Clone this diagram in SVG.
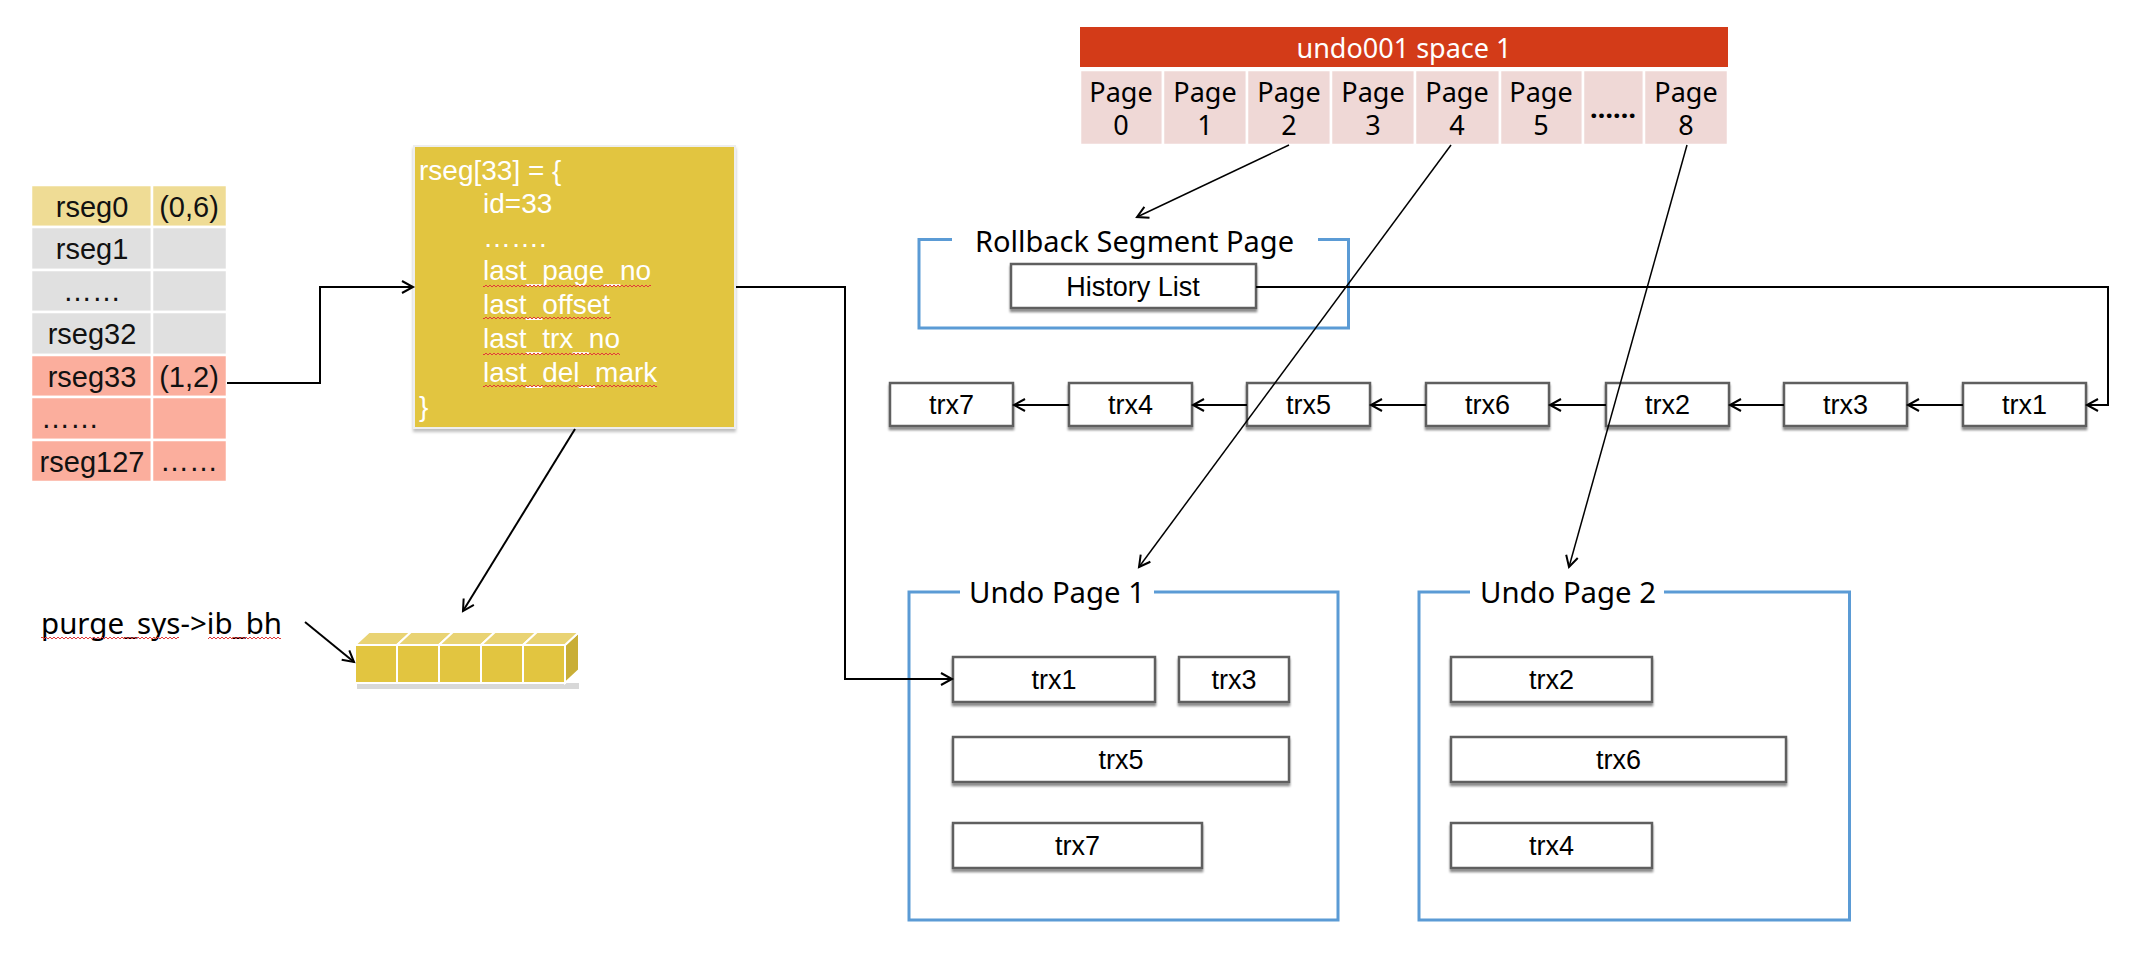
<svg xmlns="http://www.w3.org/2000/svg" width="2140" height="962" viewBox="0 0 2140 962">
<style>
.sans{font-family:"Liberation Sans",Arial,sans-serif}
.yh{font-family:"Noto Sans","Open Sans",sans-serif}
.cell{stroke:#fff;stroke-width:2.5}
.tbl{font-family:"Liberation Sans",Arial,sans-serif;font-size:29px;fill:#111;text-anchor:middle}
.ytxt{font-family:"Liberation Sans",Arial,sans-serif;font-size:28px;fill:#fff}
.pg{fill:#EFD8D6;stroke:#fff;stroke-width:2.5}
.pgt{font-family:"Noto Sans","Open Sans",sans-serif;font-size:27px;fill:#000;text-anchor:middle}
.box{fill:#fff;stroke:#5f5f5f;stroke-width:2.5;filter:url(#sh)}
.bt{font-family:"Liberation Sans",Arial,sans-serif;font-size:27px;fill:#000;text-anchor:middle}
.frame{fill:none;stroke:#5B9BD5;stroke-width:3}
.title{font-family:"Noto Sans","Open Sans",sans-serif;font-size:29px;fill:#000}
.conn{fill:none;stroke:#000;stroke-width:2}
.thin{fill:none;stroke:#000;stroke-width:1.5}
.cf{fill:#E2C540;stroke:#fff;stroke-width:2}
.ct{fill:#E9D373;stroke:#fff;stroke-width:2}
.cs{fill:#C9AE36;stroke:#fff;stroke-width:2}
</style>
<defs>
<marker id="arr" markerUnits="userSpaceOnUse" markerWidth="16" markerHeight="16" refX="13" refY="7" orient="auto">
<path d="M2,1 L13,7 L2,13" fill="none" stroke="#000" stroke-width="2"/>
</marker>
<filter id="sh" x="-10%" y="-20%" width="120%" height="160%">
<feDropShadow dx="0" dy="3" stdDeviation="1.2" flood-color="#000" flood-opacity="0.45"/>
</filter>
<filter id="sh2" x="-10%" y="-10%" width="120%" height="120%">
<feDropShadow dx="0" dy="3" stdDeviation="1.5" flood-color="#000" flood-opacity="0.25"/>
</filter>
<pattern id="wavy" width="4" height="4" patternUnits="userSpaceOnUse">
<path d="M0,3 L2,1 L4,3" fill="none" stroke="#E23A3A" stroke-width="1"/>
</pattern>
</defs>
<rect width="2140" height="962" fill="#fff"/>

<g id="rseg-table">
<rect class="cell" x="31" y="185" width="121" height="42" fill="#EFDC95"/>
<rect class="cell" x="152" y="185" width="75" height="42" fill="#EFDC95"/>
<rect class="cell" x="31" y="227" width="121" height="43" fill="#E0E0E0"/>
<rect class="cell" x="152" y="227" width="75" height="43" fill="#E0E0E0"/>
<rect class="cell" x="31" y="270" width="121" height="42" fill="#E0E0E0"/>
<rect class="cell" x="152" y="270" width="75" height="42" fill="#E0E0E0"/>
<rect class="cell" x="31" y="312" width="121" height="43" fill="#E0E0E0"/>
<rect class="cell" x="152" y="312" width="75" height="43" fill="#E0E0E0"/>
<rect class="cell" x="31" y="355" width="121" height="42" fill="#FBAE9D"/>
<rect class="cell" x="152" y="355" width="75" height="42" fill="#FBAE9D"/>
<rect class="cell" x="31" y="397" width="121" height="43" fill="#FBAE9D"/>
<rect class="cell" x="152" y="397" width="75" height="43" fill="#FBAE9D"/>
<rect class="cell" x="31" y="440" width="121" height="42" fill="#FBAE9D"/>
<rect class="cell" x="152" y="440" width="75" height="42" fill="#FBAE9D"/>
<text class="tbl" x="92" y="217">rseg0</text>
<text class="tbl" x="189" y="217">(0,6)</text>
<text class="tbl" x="92" y="259">rseg1</text>
<text class="tbl" x="92" y="301">……</text>
<text class="tbl" x="92" y="344">rseg32</text>
<text class="tbl" x="92" y="387">rseg33</text>
<text class="tbl" x="189" y="387">(1,2)</text>
<text class="tbl" x="41" y="428" style="text-anchor:start">……</text>
<text class="tbl" x="92" y="472">rseg127</text>
<text class="tbl" x="189" y="471">……</text>
</g>

<g id="rseg33-struct">
<rect x="414" y="146" width="321" height="282" fill="#E2C541" stroke="#eeeeee" stroke-width="2" filter="url(#sh2)"/>
<text class="ytxt" x="419" y="180">rseg[33] = {</text>
<text class="ytxt" x="483" y="213">id=33</text>
<text class="ytxt" x="483" y="247">…….</text>
<text class="ytxt" x="483" y="280">last_page_no</text>
<text class="ytxt" x="483" y="314">last_offset</text>
<text class="ytxt" x="483" y="348">last_trx_no</text>
<text class="ytxt" x="483" y="382">last_del_mark</text>
<text class="ytxt" x="419" y="416">}</text>
<rect x="483" y="283" width="168" height="4" fill="url(#wavy)"/>
<rect x="483" y="317" width="128" height="4" fill="url(#wavy)"/>
<rect x="483" y="351" width="137" height="4" fill="url(#wavy)"/>
<rect x="483" y="385" width="174" height="4" fill="url(#wavy)"/>
</g>

<g id="purge-label">
<text class="yh" x="41" y="634" font-size="29" textLength="241" lengthAdjust="spacingAndGlyphs">purge_sys-&gt;ib_bh</text>
<rect x="41" y="637" width="138" height="4" fill="url(#wavy)"/>
<rect x="208" y="637" width="73" height="4" fill="url(#wavy)"/>
</g>

<g id="purge-heap">
<rect x="357" y="683" width="222" height="6" fill="#d8d8d8"/>
<polygon class="cs" points="565,645 579,632 579,670 565,683"/>
<polygon class="ct" points="355,645 369,632 411,632 397,645"/>
<polygon class="ct" points="397,645 411,632 453,632 439,645"/>
<polygon class="ct" points="439,645 453,632 495,632 481,645"/>
<polygon class="ct" points="481,645 495,632 537,632 523,645"/>
<polygon class="ct" points="523,645 537,632 579,632 565,645"/>
<rect class="cf" x="355" y="645" width="42" height="38"/>
<rect class="cf" x="397" y="645" width="42" height="38"/>
<rect class="cf" x="439" y="645" width="42" height="38"/>
<rect class="cf" x="481" y="645" width="42" height="38"/>
<rect class="cf" x="523" y="645" width="42" height="38"/>
</g>

<g id="undo001-space">
<rect x="1080" y="27" width="648" height="40" fill="#D33B18"/>
<text class="yh" x="1404" y="58" font-size="27" fill="#fff" text-anchor="middle">undo001 space 1</text>
<rect class="pg" x="1080" y="70" width="83" height="75"/>
<rect class="pg" x="1163" y="70" width="84" height="75"/>
<rect class="pg" x="1247" y="70" width="84" height="75"/>
<rect class="pg" x="1331" y="70" width="84" height="75"/>
<rect class="pg" x="1415" y="70" width="85" height="75"/>
<rect class="pg" x="1500" y="70" width="83" height="75"/>
<rect class="pg" x="1583" y="70" width="61" height="75"/>
<rect class="pg" x="1644" y="70" width="84" height="75"/>
<text class="pgt" x="1121" y="102">Page</text><text class="pgt" x="1121" y="135">0</text>
<text class="pgt" x="1205" y="102">Page</text><text class="pgt" x="1205" y="135">1</text>
<text class="pgt" x="1289" y="102">Page</text><text class="pgt" x="1289" y="135">2</text>
<text class="pgt" x="1373" y="102">Page</text><text class="pgt" x="1373" y="135">3</text>
<text class="pgt" x="1457" y="102">Page</text><text class="pgt" x="1457" y="135">4</text>
<text class="pgt" x="1541" y="102">Page</text><text class="pgt" x="1541" y="135">5</text>
<text class="pgt" x="1613" y="118" font-weight="bold">……</text>
<text class="pgt" x="1686" y="102">Page</text><text class="pgt" x="1686" y="135">8</text>
</g>

<g id="rollback-segment-page">
<path class="frame" d="M952,239.5 H919 V328 H1348.5 V239.5 H1318"/>
<text class="title" x="975" y="252" textLength="319" lengthAdjust="spacingAndGlyphs">Rollback Segment Page</text>
</g>

<g id="history-list">
<rect class="box" x="1011" y="264" width="245" height="44"/>
<text class="bt" x="1133" y="296" font-size="28">History List</text>
</g>

<g id="history-chain">
<rect class="box" x="890" y="383" width="123" height="43"/><text class="bt" x="951.5" y="414">trx7</text>
<rect class="box" x="1069" y="383" width="123" height="43"/><text class="bt" x="1130.5" y="414">trx4</text>
<rect class="box" x="1247" y="383" width="123" height="43"/><text class="bt" x="1308.5" y="414">trx5</text>
<rect class="box" x="1426" y="383" width="123" height="43"/><text class="bt" x="1487.5" y="414">trx6</text>
<rect class="box" x="1606" y="383" width="123" height="43"/><text class="bt" x="1667.5" y="414">trx2</text>
<rect class="box" x="1784" y="383" width="123" height="43"/><text class="bt" x="1845.5" y="414">trx3</text>
<rect class="box" x="1963" y="383" width="123" height="43"/><text class="bt" x="2024.5" y="414">trx1</text>
</g>

<g id="undo-page-1">
<path class="frame" d="M960,592 H909 V920 H1338 V592 H1154"/>
<text class="title" x="969" y="603" textLength="176" lengthAdjust="spacingAndGlyphs">Undo Page 1</text>
<rect class="box" x="953" y="657" width="202" height="45"/><text class="bt" x="1054" y="689">trx1</text>
<rect class="box" x="1179" y="657" width="110" height="45"/><text class="bt" x="1234" y="689">trx3</text>
<rect class="box" x="953" y="737" width="336" height="45"/><text class="bt" x="1121" y="769">trx5</text>
<rect class="box" x="953" y="823" width="249" height="45"/><text class="bt" x="1077.5" y="855">trx7</text>
</g>

<g id="undo-page-2">
<path class="frame" d="M1470,592 H1419 V920 H1849.5 V592 H1664"/>
<text class="title" x="1480" y="603" textLength="176" lengthAdjust="spacingAndGlyphs">Undo Page 2</text>
<rect class="box" x="1451" y="657" width="201" height="45"/><text class="bt" x="1551.5" y="689">trx2</text>
<rect class="box" x="1451" y="737" width="335" height="45"/><text class="bt" x="1618.5" y="769">trx6</text>
<rect class="box" x="1451" y="823" width="201" height="45"/><text class="bt" x="1551.5" y="855">trx4</text>
</g>

<g id="connectors">
<path class="conn" d="M227,383 H320 V287 H413" marker-end="url(#arr)"/>
<path class="conn" d="M736,287 H845 V679 H952" marker-end="url(#arr)"/>
<path class="conn" d="M575,429 L463,611" marker-end="url(#arr)"/>
<path class="conn" d="M305,622 L354,662" marker-end="url(#arr)"/>
<path class="thin" d="M1289,145 L1137,217" marker-end="url(#arr)"/>
<path class="thin" d="M1451,145 L1139,567" marker-end="url(#arr)"/>
<path class="thin" d="M1687,145 L1569,567" marker-end="url(#arr)"/>
<path class="conn" d="M1256,287 H2108 V405 H2087" marker-end="url(#arr)"/>
<path class="conn" d="M1963,405 H1908" marker-end="url(#arr)"/>
<path class="conn" d="M1784,405 H1730" marker-end="url(#arr)"/>
<path class="conn" d="M1606,405 H1550" marker-end="url(#arr)"/>
<path class="conn" d="M1426,405 H1371" marker-end="url(#arr)"/>
<path class="conn" d="M1247,405 H1193" marker-end="url(#arr)"/>
<path class="conn" d="M1069,405 H1014" marker-end="url(#arr)"/>
</g>
</svg>
